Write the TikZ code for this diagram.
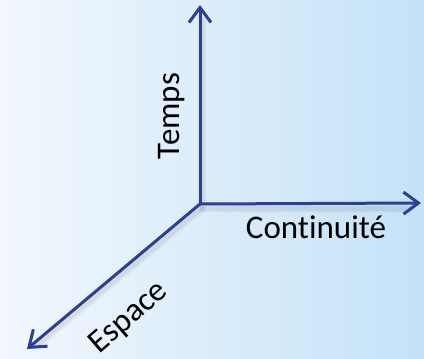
\documentclass[tikz,border=0pt]{standalone}
\usepackage{fontspec}
\setmainfont[Ligatures=NoCommon]{Carlito}
\usetikzlibrary{arrows.meta}
\definecolor{axisblue}{RGB}{44,62,150}
\definecolor{bgleft}{RGB}{242,247,253}
\definecolor{bgright}{RGB}{196,226,248}
\tikzset{
  axis/.style={draw=axisblue, line width=3pt, line cap=round, line join=round,
    -{Straight Barb[length=15pt,width=22pt,line width=3pt]}},
  axshadow/.style={draw=black, line width=5pt, opacity=0.06, line cap=round},
  lbl/.style={font=\fontsize{33}{38}\selectfont, text=black, inner sep=0pt}
}
\begin{document}
\begin{tikzpicture}[x=1pt,y=-1pt]
\shade[left color=bgleft, right color=bgright] (0,0) rectangle (424,359);
\useasboundingbox (0,0) rectangle (424,359);
\coordinate (o) at (200,204);
\coordinate (t) at (200,5);
\coordinate (c) at (421,203);
\coordinate (e) at (27,349);
% soft shadows
\coordinate (os) at (202,208);
\coordinate (ts) at (202,20);
\coordinate (cs) at (410,208);
\coordinate (es) at (36,346);
\draw[axshadow] (ts) -- (os) -- (cs);
\draw[axshadow] (os) -- (es);
\draw[axshadow, line width=9pt, opacity=0.03] (ts) -- (os) -- (cs);
\draw[axshadow, line width=9pt, opacity=0.03] (os) -- (es);
% axes
\draw[axis] (o) -- (t);
\draw[axis] (o) -- (c);
\draw[axis] (o) -- (e);
% labels
\node[lbl, rotate=90] (temps) at (172,116) {Temps};
\node[lbl, anchor=base] (cont) at (316,238) {Continuité};
\node[lbl, rotate=41] (esp) at (129,318) {Espace};
\end{tikzpicture}
\end{document}
